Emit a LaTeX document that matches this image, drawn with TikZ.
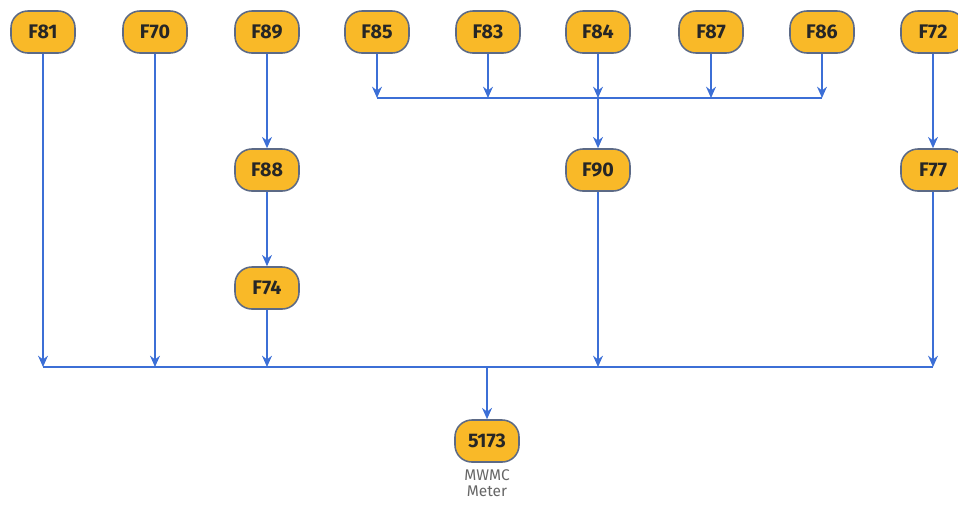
\documentclass[tikz,border=0pt]{standalone}
\usepackage{fontspec}
\setmainfont{Fira Sans}
\usepackage{tikz}
\usetikzlibrary{arrows.meta, positioning}
\definecolor{boxfill}{HTML}{F9B928}
\definecolor{boxline}{HTML}{5C6A86}
\definecolor{flowblue}{HTML}{3C6FD6}

\begin{document}
\begin{tikzpicture}[
        x=0.025cm, y=-0.025cm,
        unit/.style   ={rounded corners=12pt, draw=boxline, line width=1.1pt, fill=boxfill,
                        font=\fontsize{14}{16}\selectfont\bfseries, text=black!85,
                        minimum width=1.6cm, minimum height=1.05cm, inner sep=1pt},
        caption/.style={font=\fontsize{11}{12}\selectfont, text=black!60,
                        align=center},
        bus/.style    ={line width=1.9pt, draw=flowblue},
        arrow/.style  ={bus, -{Stealth[length=8pt, width=7pt]}}
    ]
    \useasboundingbox (0,0) rectangle (958,508);

    % --- top row ---
    \node[unit] (f81) at (43,32)  {F81};
    \node[unit] (f70) at (155,32) {F70};
    \node[unit] (f89) at (267,32) {F89};
    \node[unit] (f85) at (377,32) {F85};
    \node[unit] (f83) at (488,32) {F83};
    \node[unit] (f84) at (598,32) {F84};
    \node[unit] (f87) at (711,32) {F87};
    \node[unit] (f86) at (822,32) {F86};
    \node[unit] (f72) at (933,32) {F72};

    % --- middle ---
    \node[unit] (f88) at (267,170) {F88};
    \node[unit] (f90) at (598,170) {F90};
    \node[unit] (f77) at (933,170) {F77};
    \node[unit] (f74) at (267,288) {F74};

    % --- meter ---
    \node[unit] (meter) at (487,441) {5173};
    \node[caption, below=1pt of meter] (meterlbl) {MWMC\\Meter};

    % --- buses ---
    \coordinate (topbus) at (0,98);
    \coordinate (lowbus) at (0,367);
    \draw[bus] (f85 |- topbus) -- (f86 |- topbus);
    \draw[bus] (f81 |- lowbus) -- (f77 |- lowbus);

    % --- arrows ---
    \foreach \n in {f85,f83,f84,f87,f86}
        \draw[arrow] (\n) -- (\n |- topbus);
    \draw[arrow] (f84 |- topbus) -- (f90);
    \draw[arrow] (f89) -- (f88);
    \draw[arrow] (f88) -- (f74);
    \draw[arrow] (f72) -- (f77);
    \foreach \n in {f81,f70,f74,f90,f77}
        \draw[arrow] (\n) -- (\n |- lowbus);
    \draw[arrow] (meter |- lowbus) -- (meter);

\end{tikzpicture}
\end{document}
